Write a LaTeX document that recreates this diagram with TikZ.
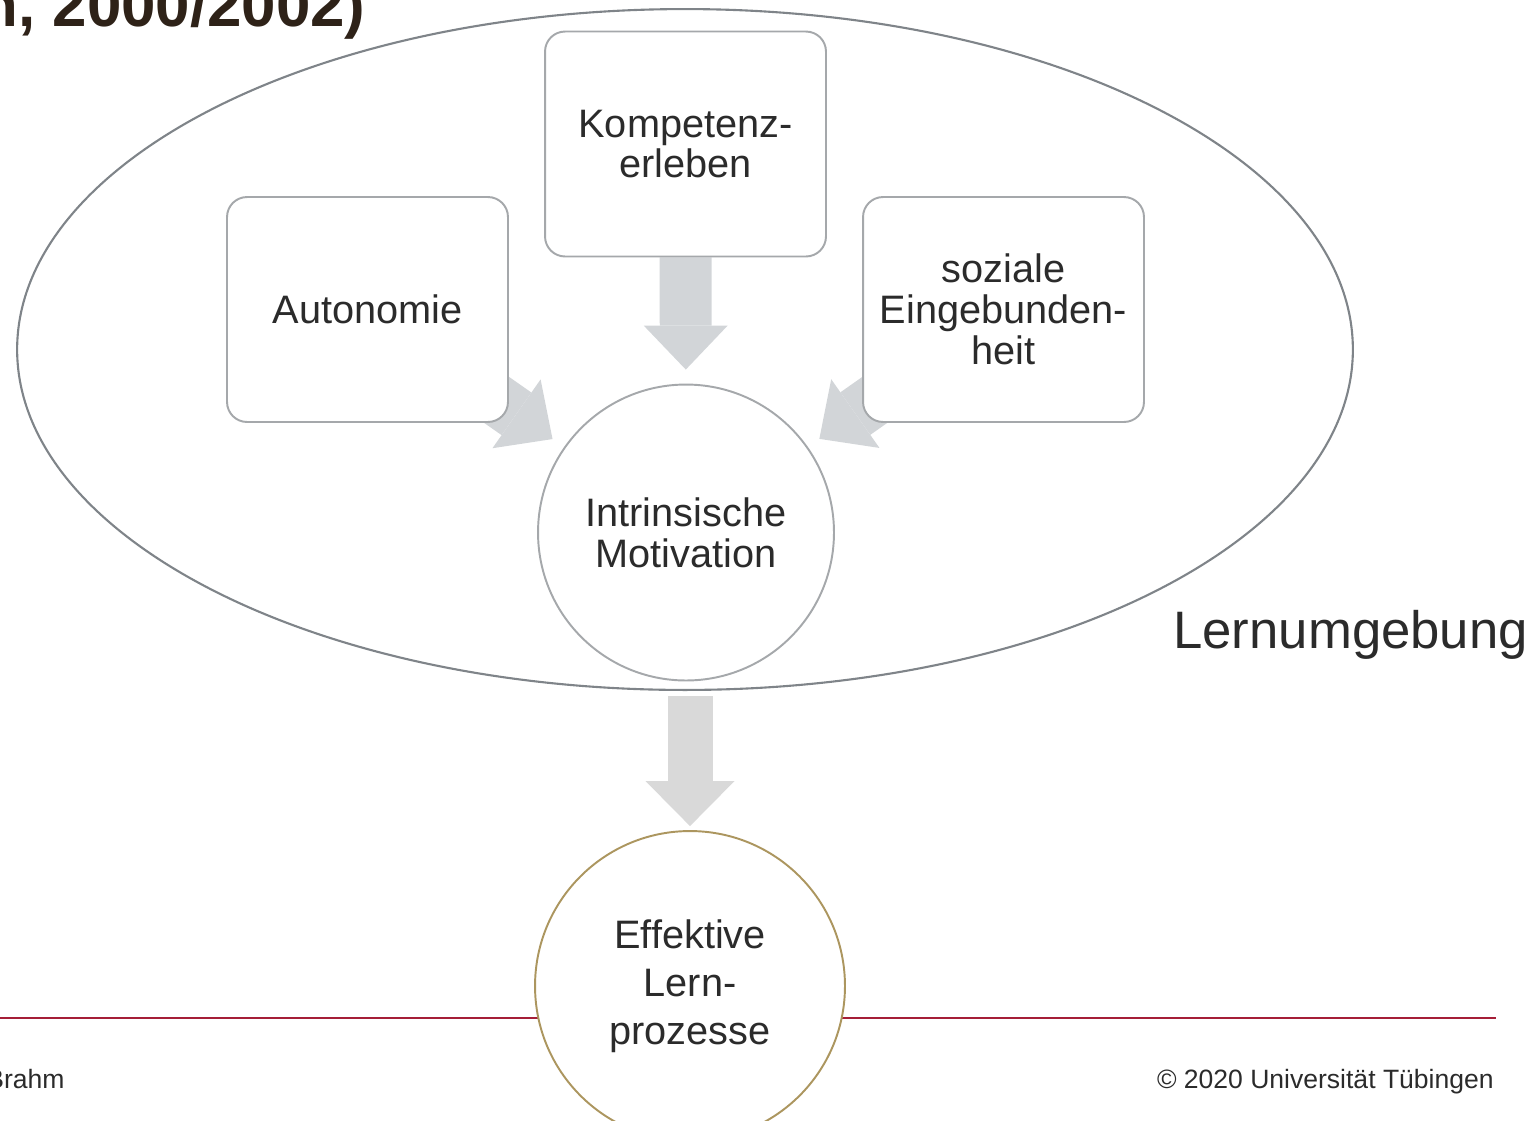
\documentclass[tikz,border=0pt]{standalone}
\usepackage{fontspec}
\setmainfont{Liberation Sans}
\usetikzlibrary{arrows.meta}

\definecolor{rahmen}{HTML}{A5A8AB}
\definecolor{umrand}{HTML}{7F8489}
\definecolor{pfeilgrau}{HTML}{D2D5D8}
\definecolor{pfeilgrau2}{HTML}{D9D9D9}
\definecolor{gold}{HTML}{AC965F}
\definecolor{unirot}{HTML}{A51E37}
\definecolor{schrift}{HTML}{2B2B2B}
\definecolor{titel}{HTML}{2E2218}

\pgfdeclarelayer{background}
\pgfsetlayers{background,main}

\tikzset{
  feld/.style={draw=rahmen, line width=1.1pt, fill=white, rounded corners=0.4cm,
    minimum width=5.62cm, minimum height=4.5cm, inner sep=0pt, align=center,
    text=schrift, font=\fontsize{22.6}{23.3}\selectfont},
  kreis/.style={circle, draw=rahmen, line width=1.1pt, fill=white,
    minimum size=5.92cm, inner sep=0pt, align=center,
    text=schrift, font=\fontsize{22.6}{23.3}\selectfont},
  zielkreis/.style={kreis, draw=gold, minimum size=6.2cm,
    font=\fontsize{22.6}{27.2}\selectfont},
  pfeil/.style={draw=pfeilgrau, line width=1.04cm,
    -{Triangle[width=1.68cm, length=0.88cm, line width=0pt]}},
  pfeilunten/.style={draw=pfeilgrau2, line width=0.9cm,
    -{Triangle[width=1.78cm, length=0.9cm, line width=0pt]}},
  fuss/.style={inner sep=0pt, text=schrift, font=\fontsize{15.1}{18}\selectfont}
}

\begin{document}
\begin{tikzpicture}[x=0.02cm, y=-0.02cm]
    \useasboundingbox (0,0) rectangle (1540,1120);

    \node[inner sep=0pt, anchor=base east, text=titel,
      font=\fontsize{35.2}{40}\selectfont\bfseries] (titel) at (366,26) {n, 2000/2002)};

    \draw[umrand, line width=1.2pt] (685,349.5) ellipse [x radius=13.36cm, y radius=6.81cm];

    \node[feld] (auto) at (367.5,309.5) {Autonomie};
    \node[feld] (komp) at (685.5,144) {Kompetenz-\\erleben};
    \node[feld] (soz) at (1003.5,309.5) {soziale\\Eingebunden-\\heit};
    \node[kreis] (intr) at (686,532.5) {Intrinsische\\Motivation};
    \node[zielkreis] (eff) at (690,986) {Effektive\\Lern-\\prozesse};

    \node[inner sep=0pt, anchor=base west, text=schrift,
      font=\fontsize{30}{34}\selectfont] (umg) at (1173,648) {Lernumgebung};

    \node[fuss, anchor=base west] (name) at (-14,1088) {Brahm};
    \node[fuss, anchor=base east] (copy) at (1494,1088) {© 2020 Universität Tübingen};

    \begin{pgfonlayer}{background}
        \draw[pfeil, shorten >=0.28cm] (komp) -- (intr);
        \draw[pfeil, shorten >=0.28cm] (auto.center) -- (intr);
        \draw[pfeil, shorten >=0.28cm] (soz.center) -- (intr);
        \draw[pfeilunten, shorten <=0.3cm, shorten >=0.08cm] (intr.south -| eff.north) -- (eff.north);
        \draw[unirot, line width=1.1pt] (0,1018) -- (1496,1018);
    \end{pgfonlayer}
\end{tikzpicture}
\end{document}
